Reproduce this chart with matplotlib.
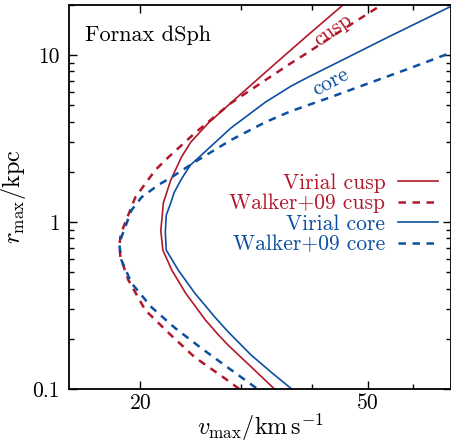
import numpy as np
import matplotlib
matplotlib.use('Agg')
import matplotlib.pyplot as plt
from matplotlib.ticker import NullFormatter

plt.rcParams['font.family'] = 'serif'
plt.rcParams['font.serif'] = ['cmr10']
plt.rcParams['mathtext.fontset'] = 'cm'
plt.rcParams['axes.unicode_minus'] = False
plt.rcParams['axes.formatter.use_mathtext'] = True

red = '#b2182b'
blue = '#0c4fa0'

# Virial cusp (solid red)
vc_cusp_v = [34.5, 30.9, 28.5, 27.4, 26.0, 24.0, 22.7, 21.9, 21.77, 21.72, 21.85, 21.94, 22.6, 23.6, 24.5, 26.3, 29.7, 33.9, 39.3, 45.2]
vc_cusp_r = [0.0986, 0.141, 0.183, 0.211, 0.259, 0.376, 0.516, 0.68, 0.824, 0.896, 1.10, 1.30, 1.78, 2.45, 3.01, 3.92, 5.68, 8.48, 13.2, 19.9]

# Virial core (solid blue)
vc_core_v = [37.0, 34.0, 31.25, 28.5, 27.0, 24.9, 23.3, 22.2, 22.12, 22.2, 22.6, 22.93, 23.6, 24.45, 25.8, 28.8, 33.1, 36.7, 39.3, 46.2, 54.2, 69.5]
vc_core_r = [0.0986, 0.125, 0.160, 0.220, 0.270, 0.376, 0.516, 0.68, 0.871, 1.10, 1.30, 1.51, 1.81, 2.19, 2.59, 3.66, 5.23, 6.52, 7.38, 9.73, 12.8, 19.4]

# Walker+09 cusp (dashed red)
wk_cusp_v = [29.8, 28.1, 24.9, 22.6, 20.4, 19.06, 18.45, 18.38, 18.45, 18.68, 19.6, 21.24, 22.4, 24.9, 28.8, 33.1, 36.7, 38.8, 45.6, 49.2, 53.1]
wk_cusp_r = [0.1, 0.116, 0.155, 0.211, 0.297, 0.449, 0.617, 0.728, 0.813, 0.933, 1.41, 2.05, 2.45, 3.41, 5.16, 7.09, 8.96, 10.1, 14.5, 17.1, 20.2]

# Walker+09 core (dashed blue)
wk_core_v = [31.9, 28.5, 25.55, 23.0, 20.9, 19.3, 18.53, 18.38, 18.53, 19.3, 20.1, 21.5, 22.7, 24.9, 28.8, 33.1, 36.7, 42.6, 48.6, 58.7, 68.1, 70.0]
wk_core_r = [0.1014, 0.134, 0.176, 0.232, 0.310, 0.431, 0.592, 0.728, 0.813, 1.18, 1.41, 1.67, 1.86, 2.29, 3.10, 3.97, 4.62, 5.53, 6.52, 8.25, 10.0, 10.4]

fig = plt.figure(figsize=(4.52, 4.43), dpi=100)
ax = fig.add_axes([0.1527, 0.1219, 0.8451, 0.8668])

ax.plot(vc_cusp_v, vc_cusp_r, color=red, lw=1.2, label='Virial cusp')
ax.plot(wk_cusp_v, wk_cusp_r, color=red, lw=1.8, dashes=(3, 2.6), label='Walker+09 cusp')
ax.plot(vc_core_v, vc_core_r, color=blue, lw=1.2, label='Virial core')
ax.plot(wk_core_v, wk_core_r, color=blue, lw=1.8, dashes=(3, 2.6), label='Walker+09 core')

ax.set_xscale('log')
ax.set_yscale('log')
ax.set_xlim(15, 70)
ax.set_ylim(0.1, 20)

ax.set_xticks([20, 50])
ax.set_xticklabels(['20', '50'])
ax.set_yticks([0.1, 1, 10])
ax.set_yticklabels(['0.1', '1', '10'])
ax.xaxis.set_minor_formatter(NullFormatter())
ax.yaxis.set_minor_formatter(NullFormatter())
ax.tick_params(which='both', direction='in', top=True, right=True, labelsize=15.5, width=1.0)
ax.tick_params(which='major', length=6)
ax.tick_params(which='minor', length=3.5)
ax.tick_params(axis='y', which='major', pad=6.5)
ax.tick_params(axis='x', which='major', pad=3)
for s in ax.spines.values():
    s.set_linewidth(1.3)

ax.set_xlabel(r'$v_\mathrm{max}/\mathrm{km\,s^{-1}}$', fontsize=17.5, labelpad=-1)
ax.set_ylabel(r'$r_\mathrm{max}/\mathrm{kpc}$', fontsize=17.5, labelpad=3)

ax.text(0.042, 0.906, 'Fornax dSph', transform=ax.transAxes, fontsize=16, va='baseline', ha='left')
ax.text(43.5, 14.2, 'cusp', color=red, fontsize=15.5, rotation=35, ha='center', va='center')
ax.text(43.1, 6.9, 'core', color=blue, fontsize=15.5, rotation=28, ha='center', va='center')

leg = ax.legend(loc='upper right', bbox_to_anchor=(0.966, 0.562), frameon=False, markerfirst=False,
                fontsize=15.5, labelcolor='linecolor', handlelength=1.85, handletextpad=0.6,
                labelspacing=0.05, borderpad=0, borderaxespad=0)
for t in leg.get_texts():
    t.set_ha('right')

fig.savefig('out.png', dpi=100)
